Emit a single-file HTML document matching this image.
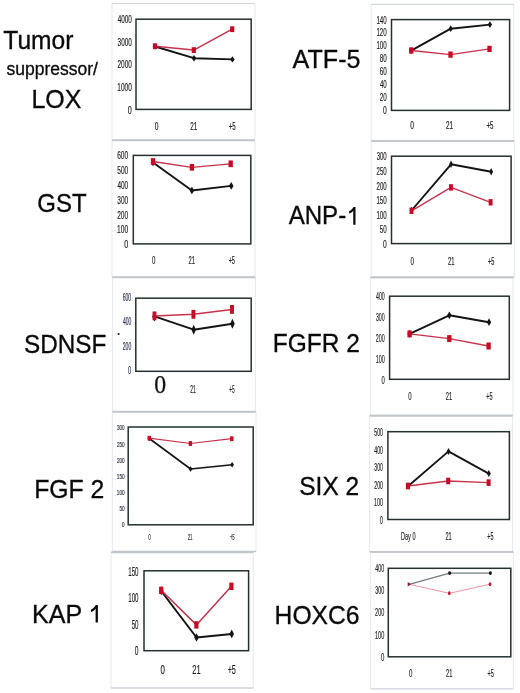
<!DOCTYPE html>
<html><head><meta charset="utf-8"><style>
html,body{margin:0;padding:0;background:#fff;}
body{width:520px;height:693px;overflow:hidden;}
svg{display:block;font-family:"Liberation Sans",sans-serif;will-change:transform;}
</style></head><body>
<svg width="520" height="693" viewBox="0 0 520 693">
<rect width="520" height="693" fill="#fff"/>
<line x1="112" y1="3.5" x2="112" y2="140" stroke="#e8ebf0" stroke-width="1.1"/>
<line x1="255" y1="3.5" x2="255" y2="140" stroke="#e8ebf0" stroke-width="1.1"/>
<line x1="112" y1="3.5" x2="255" y2="3.5" stroke="#d2d6d8" stroke-width="1.2"/>
<line x1="112" y1="140" x2="255" y2="140" stroke="#c2c6ca" stroke-width="1.7"/>
<rect x="136" y="19.2" width="115.2" height="90.2" fill="none" stroke="#243030" stroke-width="1.5"/>
<text x="117.65" y="22.7" font-size="10" fill="#1e1e1e" stroke="#1e1e1e" stroke-width="0.18" textLength="14.2" lengthAdjust="spacingAndGlyphs">4000</text>
<text x="117.56" y="45.5" font-size="10" fill="#1e1e1e" stroke="#1e1e1e" stroke-width="0.18" textLength="14.3" lengthAdjust="spacingAndGlyphs">3000</text>
<text x="117.48" y="68.3" font-size="10" fill="#1e1e1e" stroke="#1e1e1e" stroke-width="0.18" textLength="14.38" lengthAdjust="spacingAndGlyphs">2000</text>
<text x="117.3" y="91.1" font-size="10" fill="#1e1e1e" stroke="#1e1e1e" stroke-width="0.18" textLength="14.56" lengthAdjust="spacingAndGlyphs">1000</text>
<text x="127.87" y="113.5" font-size="10" fill="#1e1e1e" stroke="#1e1e1e" stroke-width="0.18" textLength="4.01" lengthAdjust="spacingAndGlyphs">0</text>
<text x="154.64" y="129.9" font-size="10.29" fill="#1e1e1e" stroke="#1e1e1e" stroke-width="0.18" textLength="3.72" lengthAdjust="spacingAndGlyphs">0</text>
<text x="190.28" y="129.9" font-size="10.29" fill="#1e1e1e" stroke="#1e1e1e" stroke-width="0.18" textLength="7.03" lengthAdjust="spacingAndGlyphs">21</text>
<text x="228.7" y="129.9" font-size="10.29" fill="#1e1e1e" stroke="#1e1e1e" stroke-width="0.18" textLength="6.96" lengthAdjust="spacingAndGlyphs">+5</text>
<polyline points="155,46.5 194,58.2 232.4,59.4" fill="none" stroke="#141414" stroke-width="1.9" stroke-linejoin="round"/>
<path d="M155 43.3L157.3 46.5L155 49.7L152.7 46.5Z" fill="#141414"/>
<path d="M194 55L196.3 58.2L194 61.4L191.7 58.2Z" fill="#141414"/>
<path d="M232.4 56.2L234.7 59.4L232.4 62.6L230.1 59.4Z" fill="#141414"/>
<polyline points="155,46.2 193.8,50.1 232.2,29.2" fill="none" stroke="#c8324a" stroke-width="1.5" stroke-linejoin="round"/>
<rect x="152.9" y="43.3" width="4.2" height="5.8" fill="#c80a26"/>
<rect x="191.7" y="47.2" width="4.2" height="5.8" fill="#c80a26"/>
<rect x="230.1" y="26.3" width="4.2" height="5.8" fill="#c80a26"/>
<line x1="112" y1="140.5" x2="112" y2="277" stroke="#e8ebf0" stroke-width="1.1"/>
<line x1="255" y1="140.5" x2="255" y2="277" stroke="#e8ebf0" stroke-width="1.1"/>
<line x1="112" y1="140.5" x2="255" y2="140.5" stroke="#c2c6ca" stroke-width="1.7"/>
<line x1="112" y1="277" x2="255" y2="277" stroke="#c2c6ca" stroke-width="1.7"/>
<rect x="133.3" y="155.4" width="117.5" height="88.5" fill="none" stroke="#243030" stroke-width="1.5"/>
<text x="117.22" y="159.05" font-size="10.43" fill="#1e1e1e" stroke="#1e1e1e" stroke-width="0.18" textLength="10.94" lengthAdjust="spacingAndGlyphs">600</text>
<text x="117.29" y="174.25" font-size="10.43" fill="#1e1e1e" stroke="#1e1e1e" stroke-width="0.18" textLength="10.87" lengthAdjust="spacingAndGlyphs">500</text>
<text x="117.4" y="188.85" font-size="10.43" fill="#1e1e1e" stroke="#1e1e1e" stroke-width="0.18" textLength="10.75" lengthAdjust="spacingAndGlyphs">400</text>
<text x="117.3" y="203.75" font-size="10.43" fill="#1e1e1e" stroke="#1e1e1e" stroke-width="0.18" textLength="10.85" lengthAdjust="spacingAndGlyphs">300</text>
<text x="117.22" y="218.65" font-size="10.43" fill="#1e1e1e" stroke="#1e1e1e" stroke-width="0.18" textLength="10.94" lengthAdjust="spacingAndGlyphs">200</text>
<text x="117.04" y="233.45" font-size="10.43" fill="#1e1e1e" stroke="#1e1e1e" stroke-width="0.18" textLength="11.12" lengthAdjust="spacingAndGlyphs">100</text>
<text x="124.17" y="247.95" font-size="10.43" fill="#1e1e1e" stroke="#1e1e1e" stroke-width="0.18" textLength="4.01" lengthAdjust="spacingAndGlyphs">0</text>
<text x="151.91" y="263.9" font-size="10.29" fill="#1e1e1e" stroke="#1e1e1e" stroke-width="0.18" textLength="3.37" lengthAdjust="spacingAndGlyphs">0</text>
<text x="188.61" y="263.9" font-size="10.29" fill="#1e1e1e" stroke="#1e1e1e" stroke-width="0.18" textLength="6.37" lengthAdjust="spacingAndGlyphs">21</text>
<text x="228.63" y="263.9" font-size="10.29" fill="#1e1e1e" stroke="#1e1e1e" stroke-width="0.18" textLength="6.3" lengthAdjust="spacingAndGlyphs">+5</text>
<polyline points="153,162.5 191.9,190.5 231.2,185.9" fill="none" stroke="#141414" stroke-width="1.9" stroke-linejoin="round"/>
<path d="M153 158.7L155.3 162.5L153 166.3L150.7 162.5Z" fill="#141414"/>
<path d="M191.9 186.7L194.2 190.5L191.9 194.3L189.6 190.5Z" fill="#141414"/>
<path d="M231.2 182.1L233.5 185.9L231.2 189.7L228.9 185.9Z" fill="#141414"/>
<polyline points="153,161.5 191.9,167.3 230.7,163.8" fill="none" stroke="#c8324a" stroke-width="1.3" stroke-linejoin="round"/>
<rect x="150.85" y="158.15" width="4.3" height="6.7" fill="#c80a26"/>
<rect x="189.75" y="163.95" width="4.3" height="6.7" fill="#c80a26"/>
<rect x="228.55" y="160.45" width="4.3" height="6.7" fill="#c80a26"/>
<line x1="112.5" y1="277.5" x2="112.5" y2="411.5" stroke="#e8ebf0" stroke-width="1.1"/>
<line x1="255.5" y1="277.5" x2="255.5" y2="411.5" stroke="#e8ebf0" stroke-width="1.1"/>
<line x1="112.5" y1="277.5" x2="255.5" y2="277.5" stroke="#c2c6ca" stroke-width="1.7"/>
<line x1="112.5" y1="411.5" x2="255.5" y2="411.5" stroke="#c2c6ca" stroke-width="1.7"/>
<rect x="135.8" y="298.2" width="115.4" height="73.1" fill="none" stroke="#243030" stroke-width="1.5"/>
<text x="122.73" y="300.8" font-size="10.86" fill="#27324a" stroke="#27324a" stroke-width="0.18" textLength="8.47" lengthAdjust="spacingAndGlyphs">600</text>
<text x="122.88" y="325" font-size="10.86" fill="#27324a" stroke="#27324a" stroke-width="0.18" textLength="8.32" lengthAdjust="spacingAndGlyphs">400</text>
<text x="122.74" y="349.6" font-size="10.86" fill="#27324a" stroke="#27324a" stroke-width="0.18" textLength="8.46" lengthAdjust="spacingAndGlyphs">200</text>
<text x="128.11" y="374" font-size="10.86" fill="#27324a" stroke="#27324a" stroke-width="0.18" textLength="3.11" lengthAdjust="spacingAndGlyphs">0</text>
<text x="190.25" y="392.6" font-size="10.86" fill="#1e1e1e" stroke="#1e1e1e" stroke-width="0.18" textLength="5.49" lengthAdjust="spacingAndGlyphs">21</text>
<text x="229.27" y="392.6" font-size="10.86" fill="#1e1e1e" stroke="#1e1e1e" stroke-width="0.18" textLength="5.43" lengthAdjust="spacingAndGlyphs">+5</text>
<polyline points="154.5,316.4 193.7,329.7 232.4,323.8" fill="none" stroke="#141414" stroke-width="1.9" stroke-linejoin="round"/>
<path d="M154.5 311.4L156.8 316.4L154.5 321.4L152.2 316.4Z" fill="#141414"/>
<path d="M193.7 324.7L196 329.7L193.7 334.7L191.4 329.7Z" fill="#141414"/>
<path d="M232.4 318.8L234.7 323.8L232.4 328.8L230.1 323.8Z" fill="#141414"/>
<polyline points="154.5,315.9 193.4,314.3 232,309.4" fill="none" stroke="#c8324a" stroke-width="1.5" stroke-linejoin="round"/>
<rect x="152.55" y="311.5" width="3.9" height="8.8" fill="#c80a26"/>
<rect x="191.45" y="309.9" width="3.9" height="8.8" fill="#c80a26"/>
<rect x="230.05" y="305" width="3.9" height="8.8" fill="#c80a26"/>
<line x1="112.4" y1="412" x2="112.4" y2="551.5" stroke="#e8ebf0" stroke-width="1.1"/>
<line x1="256" y1="412" x2="256" y2="551.5" stroke="#e8ebf0" stroke-width="1.1"/>
<line x1="112.4" y1="412" x2="256" y2="412" stroke="#c2c6ca" stroke-width="1.7"/>
<line x1="112.4" y1="551.5" x2="256" y2="551.5" stroke="#c2c6ca" stroke-width="1.7"/>
<rect x="128.2" y="427" width="125" height="97.8" fill="none" stroke="#243030" stroke-width="1.5"/>
<text x="117.04" y="429.8" font-size="8" fill="#2a3040" stroke="#2a3040" stroke-width="0.18" textLength="7.64" lengthAdjust="spacingAndGlyphs">300</text>
<text x="116.98" y="446.6" font-size="8" fill="#2a3040" stroke="#2a3040" stroke-width="0.18" textLength="7.7" lengthAdjust="spacingAndGlyphs">250</text>
<text x="116.98" y="463.1" font-size="8" fill="#2a3040" stroke="#2a3040" stroke-width="0.18" textLength="7.7" lengthAdjust="spacingAndGlyphs">200</text>
<text x="116.85" y="479.1" font-size="8" fill="#2a3040" stroke="#2a3040" stroke-width="0.18" textLength="7.83" lengthAdjust="spacingAndGlyphs">150</text>
<text x="116.85" y="495.1" font-size="8" fill="#2a3040" stroke="#2a3040" stroke-width="0.18" textLength="7.83" lengthAdjust="spacingAndGlyphs">100</text>
<text x="119.45" y="511.1" font-size="8" fill="#2a3040" stroke="#2a3040" stroke-width="0.18" textLength="5.23" lengthAdjust="spacingAndGlyphs">50</text>
<text x="121.87" y="527.3" font-size="8" fill="#2a3040" stroke="#2a3040" stroke-width="0.18" textLength="2.83" lengthAdjust="spacingAndGlyphs">0</text>
<text x="148.32" y="540.3" font-size="8.57" fill="#3a3f48" stroke="#3a3f48" stroke-width="0.18" textLength="2.56" lengthAdjust="spacingAndGlyphs">0</text>
<text x="187.68" y="540.3" font-size="8.57" fill="#3a3f48" stroke="#3a3f48" stroke-width="0.18" textLength="4.83" lengthAdjust="spacingAndGlyphs">21</text>
<text x="229.89" y="540.3" font-size="8.57" fill="#3a3f48" stroke="#3a3f48" stroke-width="0.18" textLength="4.78" lengthAdjust="spacingAndGlyphs">+5</text>
<polyline points="149.3,438.5 190.6,469 232.1,464.8" fill="none" stroke="#141414" stroke-width="1.6" stroke-linejoin="round"/>
<path d="M149.3 435.8L151.2 438.5L149.3 441.2L147.4 438.5Z" fill="#141414"/>
<path d="M190.6 466.3L192.5 469L190.6 471.7L188.7 469Z" fill="#141414"/>
<path d="M232.1 462.1L234 464.8L232.1 467.5L230.2 464.8Z" fill="#141414"/>
<polyline points="149.3,438.2 190.4,443.5 231.8,438.7" fill="none" stroke="#c8324a" stroke-width="1.2" stroke-linejoin="round"/>
<rect x="147.6" y="435.8" width="3.4" height="4.8" fill="#c80a26"/>
<rect x="188.7" y="441.1" width="3.4" height="4.8" fill="#c80a26"/>
<rect x="230.1" y="436.3" width="3.4" height="4.8" fill="#c80a26"/>
<line x1="111" y1="552.3" x2="111" y2="688" stroke="#e8ebf0" stroke-width="1.1"/>
<line x1="253.3" y1="552.3" x2="253.3" y2="688" stroke="#e8ebf0" stroke-width="1.1"/>
<line x1="111" y1="552.3" x2="253.3" y2="552.3" stroke="#c2c6ca" stroke-width="1.7"/>
<line x1="111" y1="688" x2="253.3" y2="688" stroke="#cfd5db" stroke-width="1.3"/>
<rect x="144" y="570.8" width="104.6" height="79.9" fill="none" stroke="#243030" stroke-width="1.5"/>
<text x="128.23" y="575.7" font-size="12" fill="#1e1e1e" stroke="#1e1e1e" stroke-width="0.18" textLength="10.31" lengthAdjust="spacingAndGlyphs">150</text>
<text x="128.23" y="602.2" font-size="12" fill="#1e1e1e" stroke="#1e1e1e" stroke-width="0.18" textLength="10.31" lengthAdjust="spacingAndGlyphs">100</text>
<text x="131.65" y="629.2" font-size="12" fill="#1e1e1e" stroke="#1e1e1e" stroke-width="0.18" textLength="6.89" lengthAdjust="spacingAndGlyphs">50</text>
<text x="134.84" y="655.2" font-size="12" fill="#1e1e1e" stroke="#1e1e1e" stroke-width="0.18" textLength="3.72" lengthAdjust="spacingAndGlyphs">0</text>
<text x="160.59" y="673.9" font-size="12" fill="#1e1e1e" stroke="#1e1e1e" stroke-width="0.18" textLength="4.42" lengthAdjust="spacingAndGlyphs">0</text>
<text x="192.32" y="673.9" font-size="12" fill="#1e1e1e" stroke="#1e1e1e" stroke-width="0.18" textLength="8.35" lengthAdjust="spacingAndGlyphs">21</text>
<text x="227.64" y="673.9" font-size="12" fill="#1e1e1e" stroke="#1e1e1e" stroke-width="0.18" textLength="8.26" lengthAdjust="spacingAndGlyphs">+5</text>
<polyline points="161.2,591 196.5,637.5 231.7,633.9" fill="none" stroke="#141414" stroke-width="2.0" stroke-linejoin="round"/>
<path d="M161.2 586.7L163.5 591L161.2 595.3L158.9 591Z" fill="#141414"/>
<path d="M196.5 633.2L198.8 637.5L196.5 641.8L194.2 637.5Z" fill="#141414"/>
<path d="M231.7 629.6L234 633.9L231.7 638.2L229.4 633.9Z" fill="#141414"/>
<polyline points="161.2,590.3 196.4,624.9 231.4,586.3" fill="none" stroke="#c8324a" stroke-width="1.5" stroke-linejoin="round"/>
<rect x="159.1" y="586.6" width="4.2" height="7.4" fill="#c80a26"/>
<rect x="194.3" y="621.2" width="4.2" height="7.4" fill="#c80a26"/>
<rect x="229.3" y="582.6" width="4.2" height="7.4" fill="#c80a26"/>
<line x1="371.2" y1="4.4" x2="371.2" y2="140.8" stroke="#e8ebf0" stroke-width="1.1"/>
<line x1="513.7" y1="4.4" x2="513.7" y2="140.8" stroke="#e8ebf0" stroke-width="1.1"/>
<line x1="371.2" y1="4.4" x2="513.7" y2="4.4" stroke="#d2d6d8" stroke-width="1.2"/>
<line x1="371.2" y1="140.8" x2="513.7" y2="140.8" stroke="#c2c6ca" stroke-width="1.7"/>
<rect x="391.5" y="19.6" width="118.1" height="90.8" fill="none" stroke="#243030" stroke-width="1.5"/>
<text x="376.43" y="23.65" font-size="10.43" fill="#1e1e1e" stroke="#1e1e1e" stroke-width="0.18" textLength="10.31" lengthAdjust="spacingAndGlyphs">140</text>
<text x="376.43" y="36.25" font-size="10.43" fill="#1e1e1e" stroke="#1e1e1e" stroke-width="0.18" textLength="10.31" lengthAdjust="spacingAndGlyphs">120</text>
<text x="376.43" y="49.05" font-size="10.43" fill="#1e1e1e" stroke="#1e1e1e" stroke-width="0.18" textLength="10.31" lengthAdjust="spacingAndGlyphs">100</text>
<text x="379.83" y="62.15" font-size="10.43" fill="#1e1e1e" stroke="#1e1e1e" stroke-width="0.18" textLength="6.91" lengthAdjust="spacingAndGlyphs">80</text>
<text x="379.78" y="75.15" font-size="10.43" fill="#1e1e1e" stroke="#1e1e1e" stroke-width="0.18" textLength="6.97" lengthAdjust="spacingAndGlyphs">60</text>
<text x="379.96" y="88.15" font-size="10.43" fill="#1e1e1e" stroke="#1e1e1e" stroke-width="0.18" textLength="6.78" lengthAdjust="spacingAndGlyphs">40</text>
<text x="379.79" y="101.15" font-size="10.43" fill="#1e1e1e" stroke="#1e1e1e" stroke-width="0.18" textLength="6.96" lengthAdjust="spacingAndGlyphs">20</text>
<text x="383.04" y="113.95" font-size="10.43" fill="#1e1e1e" stroke="#1e1e1e" stroke-width="0.18" textLength="3.72" lengthAdjust="spacingAndGlyphs">0</text>
<text x="410.14" y="128.5" font-size="10" fill="#1e1e1e" stroke="#1e1e1e" stroke-width="0.18" textLength="3.72" lengthAdjust="spacingAndGlyphs">0</text>
<text x="446.08" y="128.5" font-size="10" fill="#1e1e1e" stroke="#1e1e1e" stroke-width="0.18" textLength="7.03" lengthAdjust="spacingAndGlyphs">21</text>
<text x="486.5" y="128.5" font-size="10" fill="#1e1e1e" stroke="#1e1e1e" stroke-width="0.18" textLength="6.96" lengthAdjust="spacingAndGlyphs">+5</text>
<polyline points="411.2,50.6 450.7,28.7 489.9,24.6" fill="none" stroke="#141414" stroke-width="1.9" stroke-linejoin="round"/>
<path d="M411.2 47.2L413.3 50.6L411.2 54L409.1 50.6Z" fill="#141414"/>
<path d="M450.7 25.3L452.8 28.7L450.7 32.1L448.6 28.7Z" fill="#141414"/>
<path d="M489.9 21.2L492 24.6L489.9 28L487.8 24.6Z" fill="#141414"/>
<polyline points="411.2,50.5 450.5,54.6 489.5,48.9" fill="none" stroke="#c8324a" stroke-width="1.4" stroke-linejoin="round"/>
<rect x="409.05" y="47.35" width="4.3" height="6.3" fill="#c80a26"/>
<rect x="448.35" y="51.45" width="4.3" height="6.3" fill="#c80a26"/>
<rect x="487.35" y="45.75" width="4.3" height="6.3" fill="#c80a26"/>
<line x1="371.2" y1="140.8" x2="371.2" y2="277.3" stroke="#e8ebf0" stroke-width="1.1"/>
<line x1="514.3" y1="140.8" x2="514.3" y2="277.3" stroke="#e8ebf0" stroke-width="1.1"/>
<line x1="371.2" y1="140.8" x2="514.3" y2="140.8" stroke="#c2c6ca" stroke-width="1.7"/>
<line x1="371.2" y1="277.3" x2="514.3" y2="277.3" stroke="#c2c6ca" stroke-width="1.7"/>
<rect x="391.5" y="156.2" width="119.6" height="87.4" fill="none" stroke="#243030" stroke-width="1.5"/>
<text x="376.67" y="160.2" font-size="10.86" fill="#1e1e1e" stroke="#1e1e1e" stroke-width="0.18" textLength="10.07" lengthAdjust="spacingAndGlyphs">300</text>
<text x="376.6" y="174.8" font-size="10.86" fill="#1e1e1e" stroke="#1e1e1e" stroke-width="0.18" textLength="10.14" lengthAdjust="spacingAndGlyphs">250</text>
<text x="376.6" y="189.5" font-size="10.86" fill="#1e1e1e" stroke="#1e1e1e" stroke-width="0.18" textLength="10.14" lengthAdjust="spacingAndGlyphs">200</text>
<text x="376.43" y="204.3" font-size="10.86" fill="#1e1e1e" stroke="#1e1e1e" stroke-width="0.18" textLength="10.31" lengthAdjust="spacingAndGlyphs">150</text>
<text x="376.43" y="218.8" font-size="10.86" fill="#1e1e1e" stroke="#1e1e1e" stroke-width="0.18" textLength="10.31" lengthAdjust="spacingAndGlyphs">100</text>
<text x="379.85" y="233.3" font-size="10.86" fill="#1e1e1e" stroke="#1e1e1e" stroke-width="0.18" textLength="6.89" lengthAdjust="spacingAndGlyphs">50</text>
<text x="383.04" y="247.6" font-size="10.86" fill="#1e1e1e" stroke="#1e1e1e" stroke-width="0.18" textLength="3.72" lengthAdjust="spacingAndGlyphs">0</text>
<text x="410.48" y="264.5" font-size="11.14" fill="#1e1e1e" stroke="#1e1e1e" stroke-width="0.18" textLength="3.43" lengthAdjust="spacingAndGlyphs">0</text>
<text x="447.96" y="264.5" font-size="11.14" fill="#1e1e1e" stroke="#1e1e1e" stroke-width="0.18" textLength="6.48" lengthAdjust="spacingAndGlyphs">21</text>
<text x="488.07" y="264.5" font-size="11.14" fill="#1e1e1e" stroke="#1e1e1e" stroke-width="0.18" textLength="6.41" lengthAdjust="spacingAndGlyphs">+5</text>
<polyline points="411.5,210.5 451,164.3 491.2,171.8" fill="none" stroke="#141414" stroke-width="1.9" stroke-linejoin="round"/>
<path d="M411.5 206.75L413.4 210.5L411.5 214.25L409.6 210.5Z" fill="#141414"/>
<path d="M451 160.55L452.9 164.3L451 168.05L449.1 164.3Z" fill="#141414"/>
<path d="M491.2 168.05L493.1 171.8L491.2 175.55L489.3 171.8Z" fill="#141414"/>
<polyline points="411.5,210.8 451,187.4 490.6,202.3" fill="none" stroke="#c8324a" stroke-width="1.4" stroke-linejoin="round"/>
<rect x="409.55" y="207.6" width="3.9" height="6.4" fill="#c80a26"/>
<rect x="449.05" y="184.2" width="3.9" height="6.4" fill="#c80a26"/>
<rect x="488.65" y="199.1" width="3.9" height="6.4" fill="#c80a26"/>
<line x1="370.3" y1="277.3" x2="370.3" y2="415.6" stroke="#e8ebf0" stroke-width="1.1"/>
<line x1="513" y1="277.3" x2="513" y2="415.6" stroke="#e8ebf0" stroke-width="1.1"/>
<line x1="370.3" y1="277.3" x2="513" y2="277.3" stroke="#c2c6ca" stroke-width="1.7"/>
<line x1="370.3" y1="415.6" x2="513" y2="415.6" stroke="#c2c6ca" stroke-width="1.7"/>
<rect x="389.6" y="296.2" width="119.7" height="83.1" fill="none" stroke="#243030" stroke-width="1.5"/>
<text x="375.98" y="300.4" font-size="11.14" fill="#1e1e1e" stroke="#1e1e1e" stroke-width="0.18" textLength="8.73" lengthAdjust="spacingAndGlyphs">400</text>
<text x="375.9" y="321.2" font-size="11.14" fill="#1e1e1e" stroke="#1e1e1e" stroke-width="0.18" textLength="8.81" lengthAdjust="spacingAndGlyphs">300</text>
<text x="375.83" y="342.1" font-size="11.14" fill="#1e1e1e" stroke="#1e1e1e" stroke-width="0.18" textLength="8.88" lengthAdjust="spacingAndGlyphs">200</text>
<text x="375.69" y="362.7" font-size="11.14" fill="#1e1e1e" stroke="#1e1e1e" stroke-width="0.18" textLength="9.02" lengthAdjust="spacingAndGlyphs">100</text>
<text x="381.47" y="383.5" font-size="11.14" fill="#1e1e1e" stroke="#1e1e1e" stroke-width="0.18" textLength="3.26" lengthAdjust="spacingAndGlyphs">0</text>
<text x="408.31" y="400.4" font-size="11.14" fill="#1e1e1e" stroke="#1e1e1e" stroke-width="0.18" textLength="3.37" lengthAdjust="spacingAndGlyphs">0</text>
<text x="445.81" y="400.4" font-size="11.14" fill="#1e1e1e" stroke="#1e1e1e" stroke-width="0.18" textLength="6.37" lengthAdjust="spacingAndGlyphs">21</text>
<text x="486.33" y="400.4" font-size="11.14" fill="#1e1e1e" stroke="#1e1e1e" stroke-width="0.18" textLength="6.3" lengthAdjust="spacingAndGlyphs">+5</text>
<polyline points="409.6,333.8 449.3,315.3 489,322.2" fill="none" stroke="#141414" stroke-width="1.9" stroke-linejoin="round"/>
<path d="M409.6 329.9L411.8 333.8L409.6 337.7L407.4 333.8Z" fill="#141414"/>
<path d="M449.3 311.4L451.5 315.3L449.3 319.2L447.1 315.3Z" fill="#141414"/>
<path d="M489 318.3L491.2 322.2L489 326.1L486.8 322.2Z" fill="#141414"/>
<polyline points="409.6,333.9 449.3,338.6 488.6,346" fill="none" stroke="#c8324a" stroke-width="1.4" stroke-linejoin="round"/>
<rect x="407.45" y="330.4" width="4.3" height="7" fill="#c80a26"/>
<rect x="447.15" y="335.1" width="4.3" height="7" fill="#c80a26"/>
<rect x="486.45" y="342.5" width="4.3" height="7" fill="#c80a26"/>
<line x1="369.5" y1="415.6" x2="369.5" y2="551.8" stroke="#e8ebf0" stroke-width="1.1"/>
<line x1="512.6" y1="415.6" x2="512.6" y2="551.8" stroke="#e8ebf0" stroke-width="1.1"/>
<line x1="369.5" y1="415.6" x2="512.6" y2="415.6" stroke="#c2c6ca" stroke-width="1.7"/>
<line x1="369.5" y1="551.8" x2="512.6" y2="551.8" stroke="#c2c6ca" stroke-width="1.7"/>
<rect x="387.9" y="431.7" width="121.5" height="87.8" fill="none" stroke="#243030" stroke-width="1.5"/>
<text x="374.28" y="435.9" font-size="10.57" fill="#1e1e1e" stroke="#1e1e1e" stroke-width="0.18" textLength="8.73" lengthAdjust="spacingAndGlyphs">500</text>
<text x="374.37" y="453.7" font-size="10.57" fill="#1e1e1e" stroke="#1e1e1e" stroke-width="0.18" textLength="8.63" lengthAdjust="spacingAndGlyphs">400</text>
<text x="374.29" y="471.2" font-size="10.57" fill="#1e1e1e" stroke="#1e1e1e" stroke-width="0.18" textLength="8.71" lengthAdjust="spacingAndGlyphs">300</text>
<text x="374.23" y="488.7" font-size="10.57" fill="#1e1e1e" stroke="#1e1e1e" stroke-width="0.18" textLength="8.78" lengthAdjust="spacingAndGlyphs">200</text>
<text x="374.08" y="506" font-size="10.57" fill="#1e1e1e" stroke="#1e1e1e" stroke-width="0.18" textLength="8.93" lengthAdjust="spacingAndGlyphs">100</text>
<text x="379.8" y="523.7" font-size="10.57" fill="#1e1e1e" stroke="#1e1e1e" stroke-width="0.18" textLength="3.22" lengthAdjust="spacingAndGlyphs">0</text>
<text x="400.99" y="540.3" font-size="11.14" fill="#1e1e1e" stroke="#1e1e1e" stroke-width="0.18" textLength="14.58" lengthAdjust="spacingAndGlyphs">Day 0</text>
<text x="445.47" y="540.3" font-size="11.14" fill="#1e1e1e" stroke="#1e1e1e" stroke-width="0.18" textLength="6.26" lengthAdjust="spacingAndGlyphs">21</text>
<text x="487.28" y="540.3" font-size="11.14" fill="#1e1e1e" stroke="#1e1e1e" stroke-width="0.18" textLength="6.2" lengthAdjust="spacingAndGlyphs">+5</text>
<polyline points="408.3,486 448.5,451.4 488.8,473.6" fill="none" stroke="#141414" stroke-width="1.8" stroke-linejoin="round"/>
<path d="M408.3 482.5L410.25 486L408.3 489.5L406.35 486Z" fill="#141414"/>
<path d="M448.5 447.9L450.45 451.4L448.5 454.9L446.55 451.4Z" fill="#141414"/>
<path d="M488.8 470.1L490.75 473.6L488.8 477.1L486.85 473.6Z" fill="#141414"/>
<polyline points="407.9,486 448.2,481 488.6,482.6" fill="none" stroke="#c8324a" stroke-width="1.3" stroke-linejoin="round"/>
<rect x="405.9" y="482.7" width="4" height="6.6" fill="#c80a26"/>
<rect x="446.2" y="477.7" width="4" height="6.6" fill="#c80a26"/>
<rect x="486.6" y="479.3" width="4" height="6.6" fill="#c80a26"/>
<line x1="370.6" y1="552" x2="370.6" y2="688.8" stroke="#e8ebf0" stroke-width="1.1"/>
<line x1="513.4" y1="552" x2="513.4" y2="688.8" stroke="#e8ebf0" stroke-width="1.1"/>
<line x1="370.6" y1="552" x2="513.4" y2="552" stroke="#c2c6ca" stroke-width="1.7"/>
<line x1="370.6" y1="688.8" x2="513.4" y2="688.8" stroke="#cfd5db" stroke-width="1.3"/>
<rect x="388.3" y="568.3" width="122.5" height="88.5" fill="none" stroke="#243030" stroke-width="1.5"/>
<text x="375.27" y="571.7" font-size="10.86" fill="#1e1e1e" stroke="#1e1e1e" stroke-width="0.18" textLength="8.94" lengthAdjust="spacingAndGlyphs">400</text>
<text x="375.18" y="594.3" font-size="10.86" fill="#1e1e1e" stroke="#1e1e1e" stroke-width="0.18" textLength="9.03" lengthAdjust="spacingAndGlyphs">300</text>
<text x="375.12" y="616.3" font-size="10.86" fill="#1e1e1e" stroke="#1e1e1e" stroke-width="0.18" textLength="9.1" lengthAdjust="spacingAndGlyphs">200</text>
<text x="374.97" y="639" font-size="10.86" fill="#1e1e1e" stroke="#1e1e1e" stroke-width="0.18" textLength="9.25" lengthAdjust="spacingAndGlyphs">100</text>
<text x="380.9" y="660.8" font-size="10.86" fill="#1e1e1e" stroke="#1e1e1e" stroke-width="0.18" textLength="3.34" lengthAdjust="spacingAndGlyphs">0</text>
<text x="409.11" y="677" font-size="11.43" fill="#1e1e1e" stroke="#1e1e1e" stroke-width="0.18" textLength="3.37" lengthAdjust="spacingAndGlyphs">0</text>
<text x="446.01" y="677" font-size="11.43" fill="#1e1e1e" stroke="#1e1e1e" stroke-width="0.18" textLength="6.37" lengthAdjust="spacingAndGlyphs">21</text>
<text x="487.43" y="677" font-size="11.43" fill="#1e1e1e" stroke="#1e1e1e" stroke-width="0.18" textLength="6.3" lengthAdjust="spacingAndGlyphs">+5</text>
<polyline points="409.3,584.3 449.6,573.1 490.4,573.1" fill="none" stroke="#717c82" stroke-width="1.3" stroke-linejoin="round"/>
<ellipse cx="449.6" cy="573.1" rx="1.5" ry="1.9" fill="#111"/>
<ellipse cx="490.4" cy="573.1" rx="1.5" ry="1.9" fill="#111"/>
<polyline points="409.3,584.3 449.3,593.3 490,584.2" fill="none" stroke="#ee96a0" stroke-width="1.0" stroke-linejoin="round"/>
<path d="M407.7 582.1L411.2 584.3L407.7 586.5Z" fill="#8a1c3c"/>
<ellipse cx="449.3" cy="593.3" rx="1.3" ry="2.0" fill="#c8102e"/>
<ellipse cx="490" cy="584.2" rx="1.3" ry="2.0" fill="#c8102e"/>
<text x="154.2" y="393.2" font-family="Liberation Serif, serif" font-size="26" fill="#111" stroke="#111" stroke-width="0.25" textLength="11.9" lengthAdjust="spacingAndGlyphs">0</text>
<circle cx="118.6" cy="334" r="1.1" fill="#222"/>
<text x="3.28" y="48.92" font-size="25" fill="#0a0a0a" stroke="#0a0a0a" stroke-width="0.3" textLength="70.21" lengthAdjust="spacingAndGlyphs">Tumor</text>
<text x="6.39" y="75.42" font-size="18" fill="#0a0a0a" stroke="#0a0a0a" stroke-width="0.3" textLength="91.6" lengthAdjust="spacingAndGlyphs">suppressor/</text>
<text x="31.45" y="107.92" font-size="25" fill="#0a0a0a" stroke="#0a0a0a" stroke-width="0.3" textLength="49.91" lengthAdjust="spacingAndGlyphs">LOX</text>
<text x="37.26" y="211.92" font-size="25" fill="#0a0a0a" stroke="#0a0a0a" stroke-width="0.3" textLength="49.29" lengthAdjust="spacingAndGlyphs">GST</text>
<text x="23.98" y="353.42" font-size="25" fill="#0a0a0a" stroke="#0a0a0a" stroke-width="0.3" textLength="82.39" lengthAdjust="spacingAndGlyphs">SDNSF</text>
<text x="34.19" y="498.42" font-size="25" fill="#0a0a0a" stroke="#0a0a0a" stroke-width="0.3" textLength="70.18" lengthAdjust="spacingAndGlyphs">FGF 2</text>
<text x="32.12" y="622.87" font-size="25" fill="#0a0a0a" stroke="#0a0a0a" stroke-width="0.3" textLength="50.13" lengthAdjust="spacingAndGlyphs">KAP</text>
<text x="292.58" y="67.92" font-size="25" fill="#0a0a0a" stroke="#0a0a0a" stroke-width="0.3" textLength="67.89" lengthAdjust="spacingAndGlyphs">ATF-5</text>
<text x="288.64" y="224.42" font-size="25" fill="#0a0a0a" stroke="#0a0a0a" stroke-width="0.3" textLength="57.6" lengthAdjust="spacingAndGlyphs">ANP-</text>
<text x="272.83" y="351.92" font-size="25" fill="#0a0a0a" stroke="#0a0a0a" stroke-width="0.3" textLength="87.1" lengthAdjust="spacingAndGlyphs">FGFR 2</text>
<text x="299.29" y="494.92" font-size="25" fill="#0a0a0a" stroke="#0a0a0a" stroke-width="0.3" textLength="59.89" lengthAdjust="spacingAndGlyphs">SIX 2</text>
<text x="274.58" y="623.92" font-size="25" fill="#0a0a0a" stroke="#0a0a0a" stroke-width="0.3" textLength="84.94" lengthAdjust="spacingAndGlyphs">HOXC6</text>
<path d="M97.9 604.9L97.9 622.6L95.6 622.6L95.6 608.44C94.6 610.21 93 611.5 91 611.9L91 609.6C93.2 608.7 95 606.5 95.8 604.9Z" fill="#0a0a0a"/>
<path d="M355.5 207L355.5 224.8L353.25 224.8L353.25 210.56C352.25 212.34 351.1 213.1 349.1 213.5L349.1 211.2C351.3 210.3 352.65 208.6 353.45 207Z" fill="#0a0a0a"/>
</svg>
</body></html>
